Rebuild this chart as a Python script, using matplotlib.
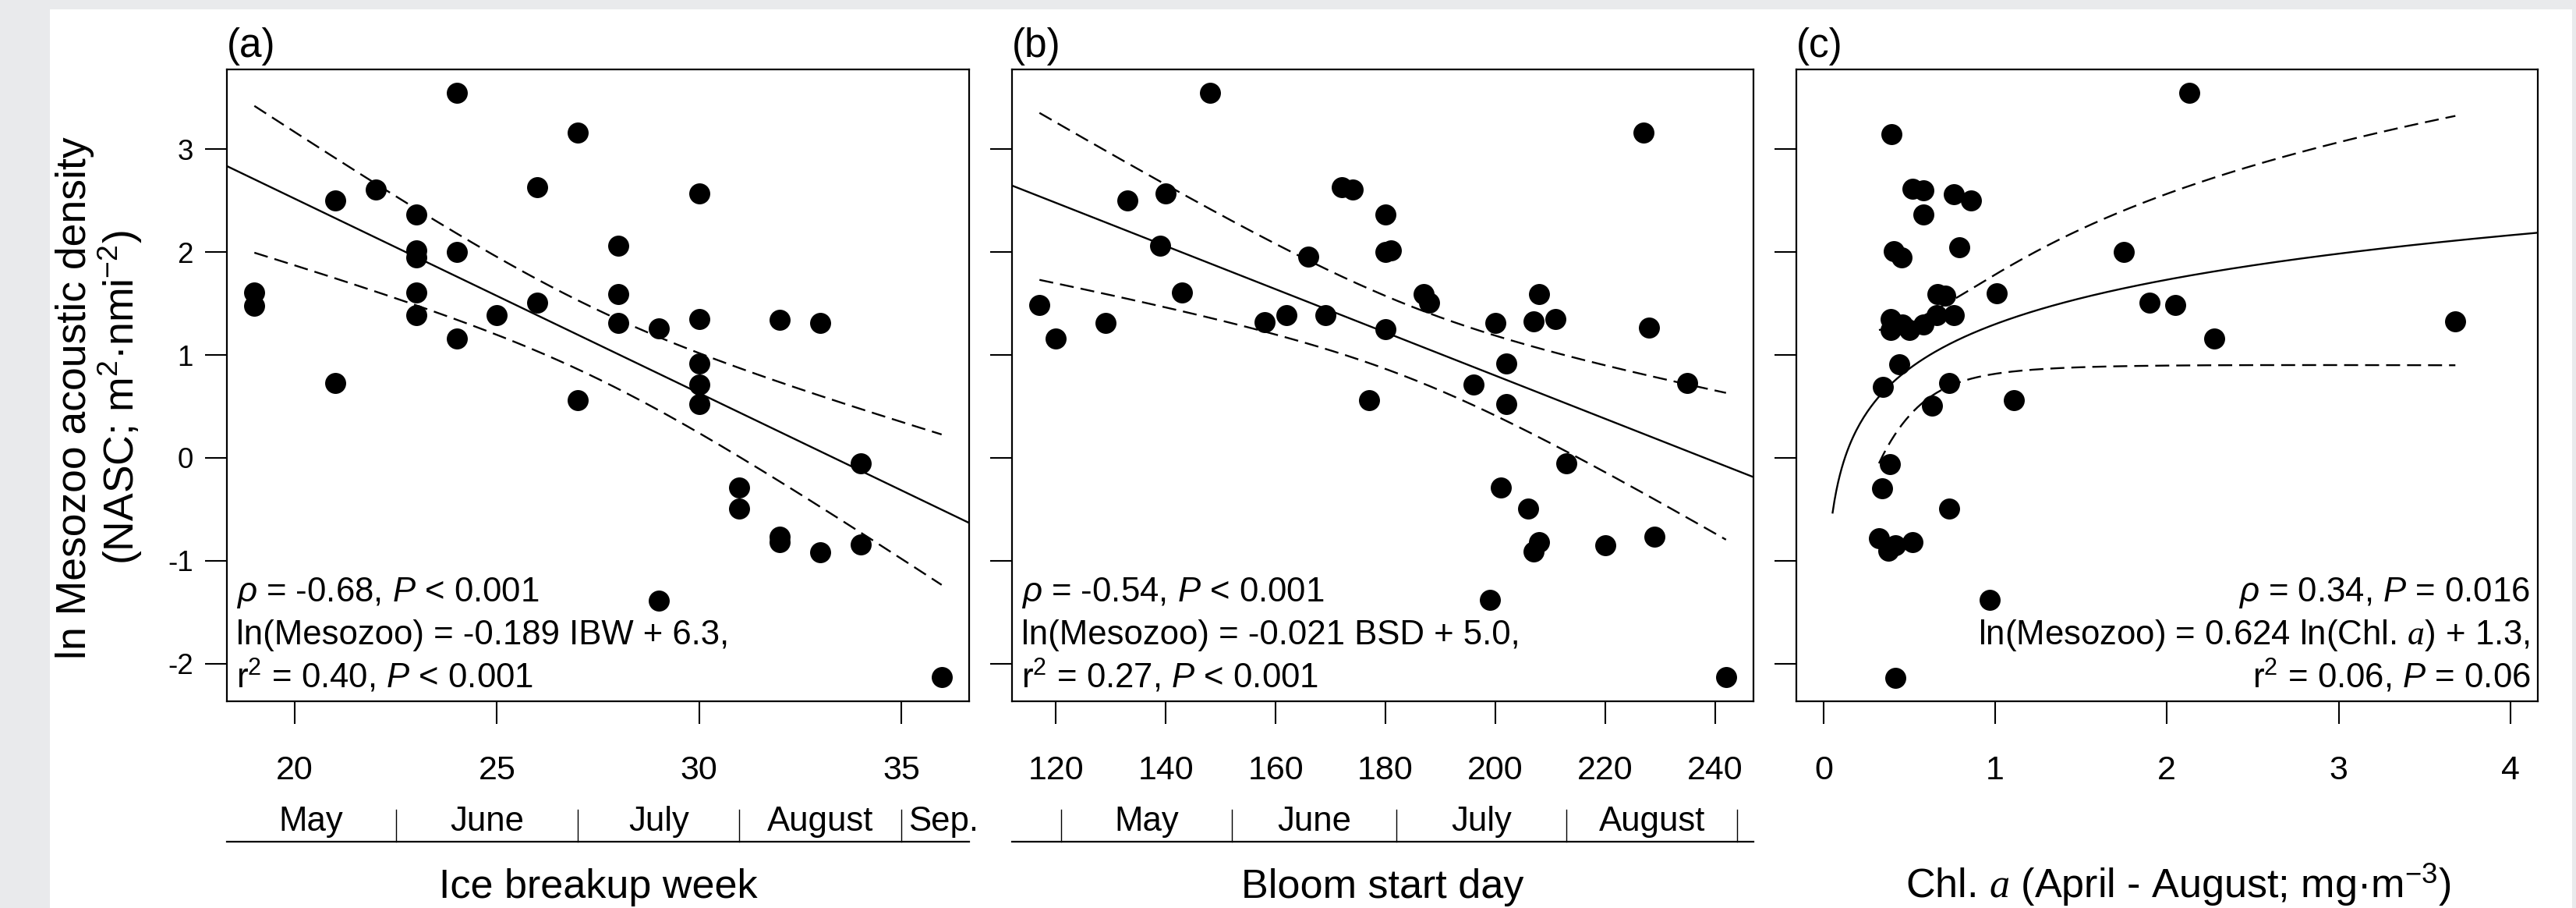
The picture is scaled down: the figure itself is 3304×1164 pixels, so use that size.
import numpy as np
import matplotlib
matplotlib.use('Agg')
import matplotlib.pyplot as plt
from matplotlib.patches import Rectangle

plt.rcParams['font.family'] = ['Liberation Sans', 'DejaVu Sans']
plt.rcParams['mathtext.fontset'] = 'custom'
plt.rcParams['mathtext.rm'] = 'Liberation Sans'
plt.rcParams['mathtext.it'] = 'Liberation Sans:italic'
plt.rcParams['mathtext.cal'] = 'Liberation Serif:italic'
plt.rcParams['axes.unicode_minus'] = False

# (a) ice breakup week vs ln mesozooplankton
ibw_x = [19, 19, 21, 21, 22, 23, 23, 23, 23, 23, 24, 24, 24, 25, 26, 26, 27, 27, 28,
         28, 28, 29, 29, 30, 30, 30, 30, 30, 31, 31, 32, 32, 32, 33, 33, 34, 34, 36]
ibw_y = [1.61, 1.48, 2.50, 0.73, 2.61, 2.37, 2.02, 1.95, 1.61, 1.39, 3.55, 2.00, 1.16,
         1.39, 2.63, 1.51, 3.16, 0.56, 2.06, 1.59, 1.31, 1.26, -1.39, 2.57, 1.35, 0.92,
         0.71, 0.52, -0.29, -0.49, 1.34, -0.77, -0.82, 1.31, -0.92, -0.05, -0.84, -2.13]

# (b) bloom start day
bsd_x = [148, 227, 133, 140, 172, 174, 180, 139, 166, 180, 181, 143, 117, 120, 129, 158,
         162, 169, 180, 177, 187, 188, 200, 208, 207, 211, 228, 202, 196, 202, 235, 213,
         201, 206, 208, 207, 220, 229, 199, 242]
bsd_y = [3.55, 3.16, 2.50, 2.57, 2.63, 2.61, 2.37, 2.06, 1.96, 2.00, 2.02, 1.61, 1.49,
         1.16, 1.31, 1.32, 1.39, 1.39, 1.25, 0.56, 1.59, 1.51, 1.31, 1.59, 1.33, 1.35,
         1.27, 0.92, 0.71, 0.52, 0.73, -0.05, -0.29, -0.49, -0.82, -0.91, -0.85, -0.77,
         -1.38, -2.13]

# (c) chlorophyll a, April - August
chl_x = [0.395, 0.52, 0.58, 0.76, 0.86, 0.58, 0.41, 0.455, 0.79, 1.01, 0.665, 0.71,
         0.39, 0.39, 0.46, 0.50, 0.58, 0.66, 0.76, 0.44, 0.345, 0.73, 0.63, 1.11, 0.385,
         0.342, 0.73, 0.323, 0.376, 0.42, 0.517, 0.97, 0.417, 1.90, 2.05, 2.275, 3.68,
         1.75, 2.13]
chl_y = [3.15, 2.62, 2.60, 2.56, 2.50, 2.37, 2.01, 1.95, 2.05, 1.60, 1.59, 1.58, 1.35,
         1.24, 1.30, 1.24, 1.30, 1.39, 1.39, 0.91, 0.69, 0.73, 0.51, 0.56, -0.06, -0.30,
         -0.49, -0.78, -0.90, -0.85, -0.82, -1.38, -2.14, 1.51, 1.49, 1.16, 1.33, 2.00,
         3.55]

# published regressions (slope, intercept)
ibw_fit = (-0.189, 6.3)
bsd_fit = (-0.021, 5.0)
chl_fit = (0.624, 1.3)
T_CRIT = 2.03

ibw_ticks = [20, 25, 30, 35]
bsd_ticks = [120, 140, 160, 180, 200, 220, 240]
chl_ticks = [0, 1, 2, 3, 4]
y_ticks = [-2, -1, 0, 1, 2, 3]

month_names_a = ['May', 'June', 'July', 'August', 'Sep.']
month_bounds_a = [22.5, 27, 31, 35]
month_mid_a = [20.4, 24.75, 29, 33, 36.05]
month_names_b = ['May', 'June', 'July', 'August']
month_bounds_b = [121, 152, 182, 213, 244]
month_mid_b = [136.5, 167, 197.5, 228.5]

stats_a = [r'$\rho$ = -0.68, $P$ < 0.001', 'ln(Mesozoo) = -0.189 IBW + 6.3,',
           r'r$^{2}$ = 0.40, $P$ < 0.001']
stats_b = [r'$\rho$ = -0.54, $P$ < 0.001', 'ln(Mesozoo) = -0.021 BSD + 5.0,',
           r'r$^{2}$ = 0.27, $P$ < 0.001']
stats_c = [r'$\rho$ = 0.34, $P$ = 0.016', r'ln(Mesozoo) = 0.624 ln(Chl. $\mathcal{a}$) + 1.3,',
           r'r$^{2}$ = 0.06, $P$ = 0.06']

W, H = 3305, 1164
AX_TOP, AX_BOT = 89, 899


def pad_range(v):
    lo, hi = min(v), max(v)
    d = 0.04 * (hi - lo)
    return lo - d, hi + d


def conf_band(x, y, slope, icpt, xs):
    x = np.asarray(x, float)
    y = np.asarray(y, float)
    n = len(x)
    s = np.sqrt(np.sum((y - (icpt + slope * x)) ** 2) / (n - 2))
    sxx = np.sum((x - x.mean()) ** 2)
    half = T_CRIT * s * np.sqrt(1.0 / n + (xs - x.mean()) ** 2 / sxx)
    fit = icpt + slope * xs
    return fit - half, fit + half


def add_panel(x0, x1):
    ax = fig.add_axes([x0 / W, 1 - AX_BOT / H, (x1 - x0) / W, (AX_BOT - AX_TOP) / H])
    for sp in ax.spines.values():
        sp.set_linewidth(1.6)
    ax.tick_params(axis='x', direction='out', length=21, width=1.5, pad=28.5, labelsize=31)
    ax.tick_params(axis='y', direction='out', length=20, width=1.5, pad=11, labelsize=26.5)
    ax.set_yticks(y_ticks)
    ax.set_ylim(*pad_range(ibw_y + bsd_y + chl_y))
    return ax


def month_axis(ax, bounds, mids, names):
    tr = ax.get_xaxis_transform()
    h = AX_BOT - AX_TOP
    base = (AX_BOT - 1079) / h
    top = (AX_BOT - 1038) / h
    lab = (AX_BOT - 1065) / h
    ax.plot([0, 1], [base, base], transform=ax.transAxes, clip_on=False, color='black', lw=1.6)
    for b in bounds:
        ax.plot([b, b], [base, top], transform=tr, clip_on=False, color='black', lw=1.0)
    for m, nm in zip(mids, names):
        ax.text(m, lab, nm, transform=tr, ha='center', va='baseline', fontsize=31.5)


def stats_text(ax, lines, right=False):
    h = AX_BOT - AX_TOP
    w = ax.get_position().width * W
    for py, s in zip([771, 826, 882], lines):
        x = 1 - 9.5 / w if right else 12.5 / w
        ax.text(x, (AX_BOT - py) / h, s, transform=ax.transAxes,
                ha='right' if right else 'left', va='baseline', fontsize=31.5)


fig = plt.figure(figsize=(W / 100, H / 100), dpi=100, facecolor='#e9eaec')
fig.patches.append(Rectangle((64 / W, 0), (3299 - 64) / W, (H - 11.5) / H,
                             transform=fig.transFigure, facecolor='white',
                             edgecolor='none', zorder=-10))

dash = (0, (7.6, 3.8))
line_kw = dict(color='black', lw=1.7)
pt_kw = dict(ls='none', marker='o', ms=19.4, mfc='black', mec='black', mew=0, zorder=3)

# ---- (a)
ax_a = add_panel(291, 1243)
ax_a.set_xlim(*pad_range(ibw_x))
xs = np.array(ax_a.get_xlim())
ax_a.plot(xs, ibw_fit[0] * xs + ibw_fit[1], **line_kw)
xs = np.linspace(min(ibw_x), max(ibw_x), 200)
lo, hi = conf_band(ibw_x, ibw_y, ibw_fit[0], ibw_fit[1], xs)
ax_a.plot(xs, lo, ls=dash, **line_kw)
ax_a.plot(xs, hi, ls=dash, **line_kw)
ax_a.plot(ibw_x, ibw_y, **pt_kw)
ax_a.set_xticks(ibw_ticks)
month_axis(ax_a, month_bounds_a, month_mid_a, month_names_a)
stats_text(ax_a, stats_a)

# ---- (b)
ax_b = add_panel(1298, 2249)
ax_b.set_xlim(*pad_range(bsd_x))
xs = np.array(ax_b.get_xlim())
ax_b.plot(xs, bsd_fit[0] * xs + bsd_fit[1], **line_kw)
xs = np.linspace(min(bsd_x), max(bsd_x), 200)
lo, hi = conf_band(bsd_x, bsd_y, bsd_fit[0], bsd_fit[1], xs)
ax_b.plot(xs, lo, ls=dash, **line_kw)
ax_b.plot(xs, hi, ls=dash, **line_kw)
ax_b.plot(bsd_x, bsd_y, **pt_kw)
ax_b.set_xticks(bsd_ticks)
ax_b.set_yticklabels([])
month_axis(ax_b, month_bounds_b, month_mid_b, month_names_b)
stats_text(ax_b, stats_b)

# ---- (c) log fit on chl a
ax_c = add_panel(2303.6, 3255)
ax_c.set_xlim(*pad_range(chl_ticks))
xs = np.linspace(0.053, 4.3, 400)
ax_c.plot(xs, chl_fit[0] * np.log(xs) + chl_fit[1], **line_kw)
xs = np.linspace(min(chl_x), max(chl_x), 300)
lo, hi = conf_band(np.log(chl_x), chl_y, chl_fit[0], chl_fit[1], np.log(xs))
ax_c.plot(xs, lo, ls=dash, **line_kw)
ax_c.plot(xs, hi, ls=dash, **line_kw)
ax_c.plot(chl_x, chl_y, **pt_kw)
ax_c.set_xticks(chl_ticks)
ax_c.set_yticklabels([])
stats_text(ax_c, stats_c, right=True)

# panel letters and axis titles
for ax, lab in [(ax_a, '(a)'), (ax_b, '(b)'), (ax_c, '(c)')]:
    x0 = ax.get_position().x0
    fig.text(x0, 1 - 73 / H, lab, ha='left', va='baseline', fontsize=37)

for ax, lab, dx in [(ax_a, 'Ice breakup week', 0), (ax_b, 'Bloom start day', 0),
                    (ax_c, r'Chl. $\mathcal{a}$ (April - August; mg·m$^{-3}$)', 15)]:
    p = ax.get_position()
    fig.text((p.x0 + p.x1) / 2 + dx / W, 1 - 1151 / H, lab, ha='center', va='baseline',
             fontsize=37.5)

fig.text(110 / W, 1 - 510 / H, 'ln Mesozoo acoustic density', rotation=90,
         rotation_mode='anchor', ha='center', va='baseline', fontsize=38.5)
fig.text(172 / W, 1 - 510 / H, r'(NASC; m$^{2}$·nmi$^{-2}$)', rotation=90,
         rotation_mode='anchor', ha='center', va='baseline', fontsize=38.5)

fig.savefig('out.png', dpi=100, facecolor=fig.get_facecolor())
